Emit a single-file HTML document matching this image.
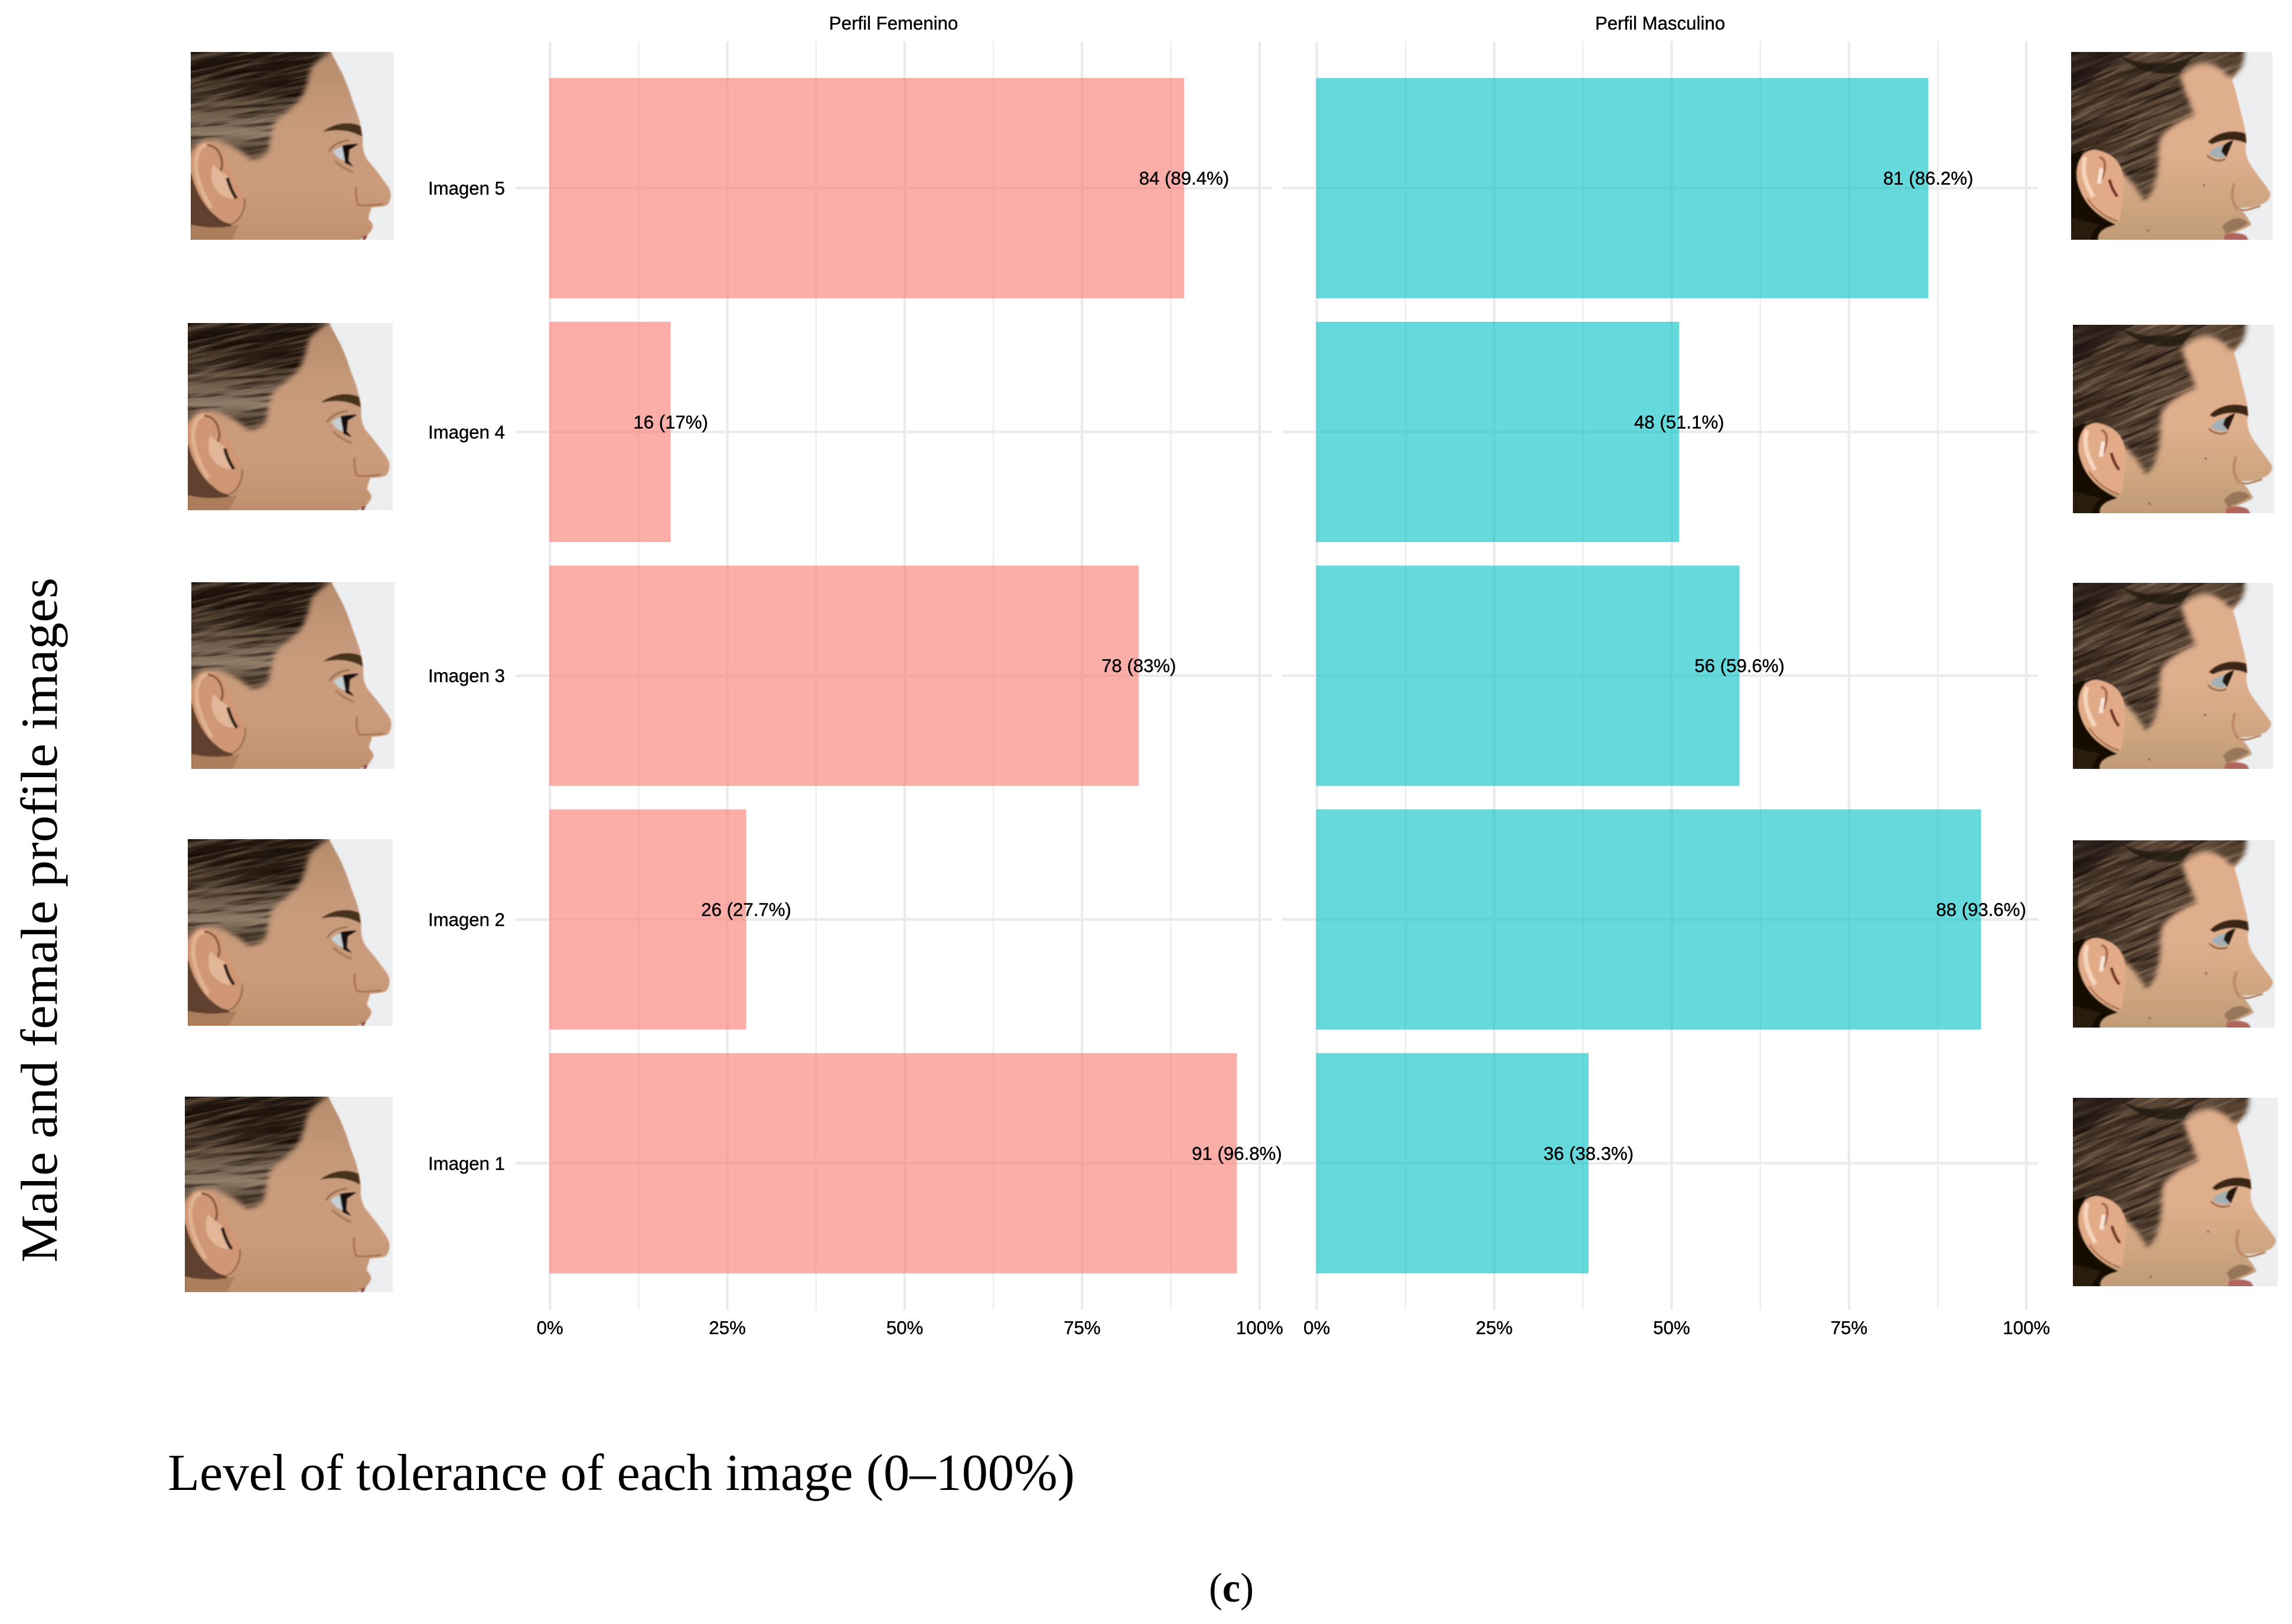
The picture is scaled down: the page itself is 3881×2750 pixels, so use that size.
<!DOCTYPE html>
<html lang="es">
<head>
<meta charset="utf-8">
<title>Level of tolerance of each image</title>
<style>
html,body{margin:0;padding:0;background:#fff;width:3881px;height:2750px;overflow:hidden}
svg{display:block}
.sans{font-family:"Liberation Sans",Arial,sans-serif;font-size:31.2px;fill:#000;stroke:#000;stroke-width:.4px}
.serif{font-family:"Liberation Serif","Times New Roman",serif;font-size:88px;fill:#000}
</style>
</head>
<body>
<svg id="chart" xmlns="http://www.w3.org/2000/svg" width="3881" height="2750" viewBox="0 0 3881 2750">
<defs>
<filter id="soft" x="-5%" y="-5%" width="110%" height="110%"><feGaussianBlur stdDeviation="0.35"/></filter>
<filter id="softer" x="-30%" y="-30%" width="160%" height="160%"><feGaussianBlur stdDeviation="2"/></filter>
<filter id="feather" x="-10%" y="-10%" width="120%" height="120%"><feGaussianBlur stdDeviation="1.3"/></filter>
<filter id="streakLight" x="0" y="0" width="100%" height="100%" color-interpolation-filters="sRGB">
<feTurbulence type="fractalNoise" baseFrequency=".03 .42" numOctaves="3" seed="7"/>
<feColorMatrix type="matrix" values="0 0 0 0 .68  0 0 0 0 .58  0 0 0 0 .47  3.2 0 0 0 -1.45"/>
<feGaussianBlur stdDeviation=".18"/>
</filter>
<filter id="streakDark" x="0" y="0" width="100%" height="100%" color-interpolation-filters="sRGB">
<feTurbulence type="fractalNoise" baseFrequency=".025 .3" numOctaves="3" seed="23"/>
<feColorMatrix type="matrix" values="0 0 0 0 .09  0 0 0 0 .05  0 0 0 0 .03  3.4 0 0 0 -1.5"/>
<feGaussianBlur stdDeviation=".25"/>
</filter>
<linearGradient id="skinF" x1="0" y1="0" x2="0" y2="1"><stop offset="0" stop-color="#b48b6c"/><stop offset=".35" stop-color="#c69a7b"/><stop offset=".7" stop-color="#cb9c7d"/><stop offset="1" stop-color="#c0906d"/></linearGradient>
<linearGradient id="skinM" x1="0" y1="0" x2="0" y2="1"><stop offset="0" stop-color="#e0ae8c"/><stop offset=".55" stop-color="#dfae8d"/><stop offset=".8" stop-color="#cda580"/><stop offset="1" stop-color="#bf9a76"/></linearGradient>
<linearGradient id="hairF" x1="0" y1="0" x2="0" y2="1"><stop offset="0" stop-color="#21160e"/><stop offset=".22" stop-color="#2b1e14"/><stop offset=".33" stop-color="#6a5847"/><stop offset=".44" stop-color="#8d7b68"/><stop offset=".54" stop-color="#463729"/><stop offset="1" stop-color="#463729"/></linearGradient>
<linearGradient id="hairM" x1="0" y1="0" x2="1" y2="0"><stop offset="0" stop-color="#33241a"/><stop offset=".45" stop-color="#5b4737"/><stop offset="1" stop-color="#4f3a29"/></linearGradient>
<mask id="hairMaskF" maskUnits="userSpaceOnUse" x="-5" y="-5" width="110" height="110">
<path d="M-6 -6L69 -6L68 0C64 3 61 6 59 9C58 14 57 19 54 25C50 30 45 33 41 38C39 43 39 48 38 53C35 56 32 57 29 56.500C24 52 19 49 14 47L6 47L-6 58Z" fill="#fff" filter="url(#feather)"/>
</mask>
<mask id="hairMaskM" maskUnits="userSpaceOnUse" x="-5" y="-5" width="110" height="110">
<path d="M-6 -6L86 -6C86 2 86 6 84 9C82 11 80 14 78 13C74 8 70 6 66 6C60 7 56 10 54 13C56 20 59 27 61 33C54 36 48 40 44 46C43 52 44 60 42 68C41 73 39 77 36 79C34 75 31 70 27 66C22 60 14 52 8 54L-6 60Z" fill="#fff" filter="url(#feather)"/>
</mask>
<symbol id="female-face" viewBox="0 0 100 100" preserveAspectRatio="none">
<rect width="100" height="100" fill="#edeeef"/>
<g filter="url(#soft)">
<path d="M50 -2L68 -2L74.500 11.300C76 15 78 20 79.300 25C81 30 83 35 83.600 39.600C84.500 43 84.800 47 84.600 50C85 53 85.500 55 87 57.500C89 60 92 64 94 67C96 70 98 72.500 98.400 75.300C98.500 78 98 80 96.600 81.600C94 82.500 91 82.700 89 82.700C88.500 85 87.500 87 87.500 89C88.500 90 89.500 91.500 89.700 93C89 95 88 96.500 87 97.500C85 98.500 83 100 82 102L-2 102L-2 0Z" fill="url(#skinF)"/>
</g>
<g mask="url(#hairMaskF)">
<rect x="-5" y="-5" width="110" height="110" fill="url(#hairF)"/>
<rect x="-30" y="-30" width="160" height="160" fill="#000" filter="url(#streakDark)" transform="rotate(-6 50 50)" opacity=".9"/>
<rect x="-30" y="-30" width="160" height="160" fill="#000" filter="url(#streakLight)" transform="rotate(-14 50 50)" opacity=".42"/>
</g>
<g filter="url(#soft)">
<path d="M-2 60L-2 102L14 102L22 94L6 78Z" fill="#60402d"/>
<path d="M0 102L0 92C8 94 16 94 24 92C22 96 20 100 20 102Z" fill="#ad7e5c"/>
<path d="M8 48C2 48 0 55 0 62C1 72 7 83 12 87C15 90 18 92 21 91C25 89 27 83 26.500 78C25 72 21 65 18 58C17 52 14 48 8 48Z" fill="#cf9774"/>
<path d="M8 49.500C4 50 2.500 55 2.500 61C3 68 6 76 10 83" fill="none" stroke="#e0b292" stroke-width="2"/>
<path d="M8 49.500C13 50 15 54 15.500 60C15 63 14.500 64 14 66" fill="none" stroke="#7d5038" stroke-width="1"/>
<path d="M11 60C9 66 10 72 15 76C18 78 20 78 22 78L18 66C15 64 13 62 11 60Z" fill="#e2b699"/>
<path d="M18 67C19 71 20.500 75 22.500 78" fill="none" stroke="#20120a" stroke-width="1.600"/>
<path d="M26.500 78C27 84 24 90 20 91.500" fill="none" stroke="#8f6247" stroke-width=".7"/>
<path d="M65 42.500C70 38.500 77 36.500 83.500 39.500L84.300 45C78 41 71 41 65 42.500Z" fill="#47321f"/>
<path d="M70 53C72 51 74 50.500 75.500 50L76 58C73.500 57.500 71.500 55.500 70 53Z" fill="#c6d0d4"/>
<path d="M74.500 50C76 49.500 80 49 82.500 49L78 52L77.500 58L80 61L76 59Z" fill="#140c07"/>
<path d="M68 53C70 49 74 47.500 78 47" fill="none" stroke="#8c6348" stroke-width=".7"/>
<path d="M71 58C74 61 77 63 80 64" fill="none" stroke="#8a6046" stroke-width="1.200" opacity=".55"/>
<path d="M81.500 72C81 75 81.500 79 82.500 81.500C86 82 90 81.500 94.500 81" fill="none" stroke="#a56c4d" stroke-width=".8"/>
<path d="M80 102C83 99 85 98 87 97.500L85 102Z" fill="#8a3f35"/>
<path d="M82 100L85 98.800L84.500 100Z" fill="#efe6dc"/>
</g>
</symbol>
<symbol id="male-face" viewBox="0 0 100 100" preserveAspectRatio="none">
<rect width="100" height="100" fill="#eceef0"/>
<g filter="url(#soft)">
<path d="M40 -2L85 -2C85 5 83 10 80 15C82 21 83 27 84.500 33C86 39 87 44 87 48C86 52 87 56 89 60C92 65 96 70 99 75C99 79 96 81 92 82C89 83 86 83 84 83C85 85 88 88 89.500 92C87 94 83 95 80 97L85 102L-2 102L-2 0Z" fill="url(#skinM)"/>
</g>
<g mask="url(#hairMaskM)">
<rect x="-5" y="-5" width="110" height="110" fill="url(#hairM)"/>
<rect x="-30" y="-30" width="160" height="160" fill="#000" filter="url(#streakDark)" transform="rotate(-24 50 50)" opacity=".85"/>
<rect x="-30" y="-30" width="160" height="160" fill="#000" filter="url(#streakLight)" transform="rotate(-24 50 50)" opacity=".5"/>
</g>
<g filter="url(#soft)">
<path d="M-2 -2L36 -2C28 2 18 6 8 16L-2 22Z" fill="#1d120b" opacity=".6"/>
<path d="M24 2C36 8 48 7 60 3L54 11C44 13 32 10 24 2Z" fill="#22150c" opacity=".8"/>
<path d="M-2 55L6 52L3 68C5 78 10 86 22 92C14 94 12 98 14 102L-2 102Z" fill="#150c06"/>
<path d="M14 92C10 96 9 100 10 102L-2 102L-2 88Z" fill="#2a1a10"/>
<path d="M12 52C5 52 2 60 3 68C5 78 12 88 24 90C25 84 26 76 26 70C26 60 22 54 12 52Z" fill="#e2ab88"/>
<path d="M7 56C5 63 7 70 11 77" fill="none" stroke="#f7d8c2" stroke-width="2.200" opacity=".9"/>
<path d="M14 56C19 57 16 66 15 68" fill="none" stroke="#a0604a" stroke-width="1.200"/>
<path d="M15 62C15 65 14 67 14 70" fill="none" stroke="#f9e4d6" stroke-width="2"/>
<path d="M19 68C20 72 21.500 75 23 77" fill="none" stroke="#6e2a1a" stroke-width="1.500"/>
<path d="M8 78C12 84 17 88 23 90" fill="none" stroke="#a56a4c" stroke-width=".8"/>
<path d="M68 48C72 43 80 41 86.500 43.500L87 48.500C82 46 76 46 70 49Z" fill="#3a2618"/>
<path d="M68.500 54C71 50.500 74 50 76.500 49.500L76 56.500C73 56.500 70.500 56 68.500 54Z" fill="#a3b1b7"/>
<path d="M75.500 50C77 48.500 79 47.500 80.500 47L77 56L74.500 53Z" fill="#20140d"/>
<path d="M67.500 55C70 58 74 58.500 76.500 57" fill="none" stroke="#8c5f45" stroke-width=".8"/>
<ellipse cx="66" cy="71" rx="0.500" ry="0.500" fill="#7a4d38"/>
<ellipse cx="38" cy="95" rx="0.500" ry="0.500" fill="#7a4d38"/>
<path d="M84 84C87 85 90 83 94 82" fill="none" stroke="#a97050" stroke-width=".9"/>
<path d="M81 70C79 76 80 81 83 84" fill="none" stroke="#bb8564" stroke-width="1.200"/>
<path d="M75 93C79 88 84 87 88 91C85 94 80 95 77 97Z" fill="#7a5c44" opacity=".6"/>
<path d="M76 97.500C79 96 84 96 87 98L89 102L76 102Z" fill="#b0665c"/>
</g>
</symbol>
</defs>

<g id="photos-female">
<use href="#female-face" x="323" y="88" width="344" height="318"/>
<use href="#female-face" x="318" y="547" width="347" height="317"/>
<use href="#female-face" x="324" y="986" width="344" height="316"/>
<use href="#female-face" x="318" y="1421" width="347" height="316"/>
<use href="#female-face" x="313" y="1857" width="352" height="331"/>
</g>
<g id="photos-male">
<use href="#male-face" x="3507" y="88" width="341" height="318"/>
<use href="#male-face" x="3510" y="550" width="341" height="319"/>
<use href="#male-face" x="3510" y="987" width="339" height="315"/>
<use href="#male-face" x="3510" y="1423" width="342" height="317"/>
<use href="#male-face" x="3510" y="1859" width="347" height="319"/>
</g>

<g id="plot"></g>

<text class="serif" transform="translate(96 2138) rotate(-90)" textLength="1160" lengthAdjust="spacingAndGlyphs">Male and female profile images</text>
<text class="serif" x="284" y="2523" textLength="1536" lengthAdjust="spacingAndGlyphs">Level of tolerance of each image (0–100%)</text>
<text class="serif" x="2047" y="2712" textLength="76" lengthAdjust="spacingAndGlyphs" style="font-size:70px">(<tspan font-weight="bold">c</tspan>)</text>
</svg>

<script>
const categories = ["Imagen 1", "Imagen 2", "Imagen 3", "Imagen 4", "Imagen 5"];
const femaleCounts = [91, 26, 78, 16, 84];
const maleCounts = [36, 88, 56, 48, 81];
const totalResponses = 94;
const majorTicks = [0, 25, 50, 75, 100];
const minorTicks = [12.5, 37.5, 62.5, 87.5];

const NS = "http://www.w3.org/2000/svg";
const plot = document.getElementById("plot");

function make(tag, parent) {
  const el = document.createElementNS(NS, tag);
  parent.appendChild(el);
  return el;
}
function scaleX(originPx) {
  return function (pct) { return originPx + pct * 12.016; };
}
function scaleY(index) {
  return 1969.8 - index * 412.8;
}
function percentLabel(count) {
  const pct = Math.round(count / totalResponses * 1000) / 10;
  return count + " (" + pct + "%)";
}

function drawPanel(key, title, counts, fill, originPx, left, right) {
  const x = scaleX(originPx);
  const g = make("g", plot);
  
  

  const strip = make("text", g);
  strip.setAttribute("class", "sans");
  strip.setAttribute("x", (left + right) / 2);
  strip.setAttribute("y", 50);
  strip.setAttribute("text-anchor", "middle");
  
  
  strip.textContent = title;

  minorTicks.forEach(function (t) {
    const line = make("line", g);
    line.setAttribute("x1", x(t));
    line.setAttribute("x2", x(t));
    line.setAttribute("y1", 70);
    line.setAttribute("y2", 2218);
    line.setAttribute("stroke", "#ebebeb");
    line.setAttribute("stroke-width", 2.2);
    
    
  });
  majorTicks.forEach(function (t) {
    const line = make("line", g);
    line.setAttribute("x1", x(t));
    line.setAttribute("x2", x(t));
    line.setAttribute("y1", 70);
    line.setAttribute("y2", 2218);
    line.setAttribute("stroke", "#ebebeb");
    line.setAttribute("stroke-width", 4.4);
    
    
  });
  categories.forEach(function (c, i) {
    const line = make("line", g);
    line.setAttribute("x1", left);
    line.setAttribute("x2", right);
    line.setAttribute("y1", scaleY(i));
    line.setAttribute("y2", scaleY(i));
    line.setAttribute("stroke", "#ebebeb");
    line.setAttribute("stroke-width", 4.4);
    
    
  });
  counts.forEach(function (v, i) {
    const bar = make("rect", g);
    const end = x(v / totalResponses * 100);
    bar.setAttribute("x", x(0) - 1);
    bar.setAttribute("y", scaleY(i) - 186.5);
    bar.setAttribute("width", end - x(0) + 1);
    bar.setAttribute("height", 373);
    bar.setAttribute("fill", fill);
    bar.setAttribute("fill-opacity", 0.6);
    
    
  });
  counts.forEach(function (v, i) {
    const label = make("text", g);
    label.setAttribute("class", "sans");
    label.setAttribute("x", x(v / totalResponses * 100));
    label.setAttribute("y", scaleY(i) - 6);
    label.setAttribute("text-anchor", "middle");
    
    
    label.textContent = percentLabel(v);
  });
  majorTicks.forEach(function (t) {
    const tick = make("text", g);
    tick.setAttribute("class", "sans");
    tick.setAttribute("x", x(t));
    tick.setAttribute("y", 2259);
    tick.setAttribute("text-anchor", "middle");
    
    
    tick.textContent = t + "%";
  });
}

drawPanel("female", "Perfil Femenino", femaleCounts, "#F8766D", 931.2, 873, 2153);
drawPanel("male", "Perfil Masculino", maleCounts, "#00BFC4", 2229.7, 2171, 3451);

categories.forEach(function (c, i) {
  const label = make("text", plot);
  label.setAttribute("class", "sans");
  label.setAttribute("x", 855);
  label.setAttribute("y", scaleY(i) + 11);
  label.setAttribute("text-anchor", "end");
  
  
  label.textContent = c;
});
</script>
</body>
</html>
